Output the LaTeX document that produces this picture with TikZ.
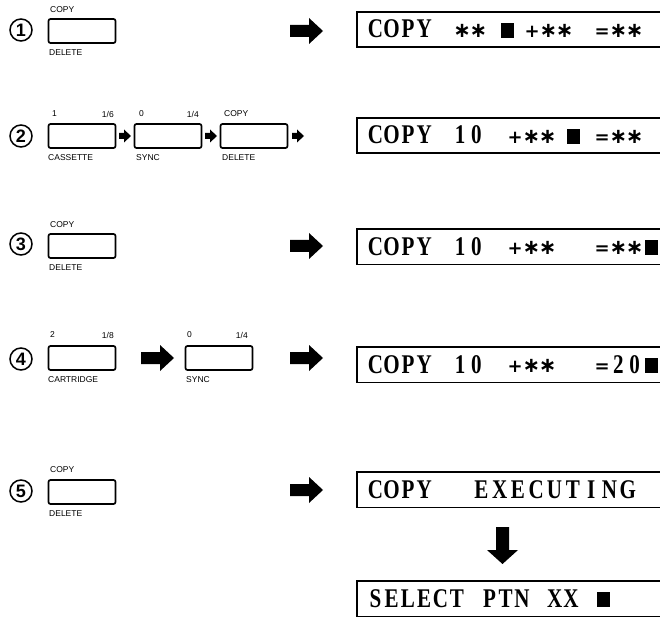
\documentclass[tikz,border=0pt]{standalone}
\usepackage{fontspec}
\setmainfont{Liberation Sans}
\newfontfamily\dispfont{Liberation Serif}[FakeStretch=0.78]
\newfontfamily\symfont{DejaVu Sans}
\newlength\pitch \setlength\pitch{16.3pt}
\newcommand\dsp[1]{\dspA#1\relax}
\def\dspA#1{\ifx\relax#1\else\makebox[\pitch][c]{\dchr#1}\expandafter\dspA\fi}
\def\dchr#1{\ifx*#1\raisebox{0.5pt}{\symfont\bfseries\fontsize{21}{21}\selectfont ∗}\else\ifx!#1\rule{13pt}{15pt}\else\ifx.#1\else\ifx+#1\raisebox{0.5pt}{\symfont\bfseries\fontsize{18}{18}\selectfont +}\else\ifx=#1\raisebox{0.5pt}{\symfont\bfseries\fontsize{18}{18}\selectfont =}\else#1\fi\fi\fi\fi\fi}
\newcommand\bigarrow[1]{\fill[shift={(#1)}] (0,-6) -- (19,-6) -- (19,-13) -- (33,0) -- (19,13) -- (19,6) -- (0,6) -- cycle;}
\newcommand\smallarrow[1]{\fill[shift={(#1)}] (0,-3) -- (5,-3) -- (5,-6.5) -- (12,0) -- (5,6.5) -- (5,3) -- (0,3) -- cycle;}
\begin{document}
\begin{tikzpicture}[x=1pt,y=-1pt,
  keybox/.style={draw,line width=1.7pt,rounded corners=2pt,minimum width=67pt,minimum height=24pt,inner sep=0pt},
  keylab/.style={font=\fontsize{8.5}{9}\selectfont,inner sep=0pt},
  circnum/.style={circle,draw,line width=1.5pt,minimum size=22pt,inner sep=0pt,font=\fontsize{18}{18}\selectfont\bfseries},
  dispbox/.style={minimum width=305pt,minimum height=35pt,inner sep=0pt,anchor=north west},
  dline/.style={line width=1.8pt},
  disptext/.style={anchor=base west,inner sep=0pt,font=\dispfont\bfseries\fontsize{27}{27}\selectfont}
]
\useasboundingbox (0,0) rectangle (660,617);

% displays
\foreach \t/\n in {12/d1,118/d2,229/d3,347/d4,472/d5,581/d6}{
  \node[dispbox] (\n) at (357,\t) {};
  \draw[dline] (\n.north east) -- (\n.north west) -- (\n.south west) -- (\n.south east);
}

% ---- row 1
\node[circnum] (c1) at (21,30) {1};
\node[keybox] (k1) at (82,31) {};
\node[keylab,anchor=west] (k1t) at (50,10) {COPY};
\node[keylab,anchor=west] (k1b) at (49,53) {DELETE};
\bigarrow{290,31}
\node[disptext] (t1a) at (367,38) {\dsp{COPY}};
\node[disptext] (t1b) at (453.8,38) {\dsp{**}};
\node[disptext] (t1c) at (498.8,38) {\dsp{!}};
\node[disptext] (t1d) at (523.8,38) {\dsp{+**}};
\node[disptext] (t1e) at (593.8,38) {\dsp{=**}};

% ---- row 2
\node[circnum] (c2) at (21,136) {2};
\node[keybox] (k21) at (82,136) {};
\node[keybox] (k22) at (168,136) {};
\node[keybox] (k23) at (254,136) {};
\smallarrow{119,136}
\smallarrow{205,136}
\smallarrow{292,136}
\node[keylab,anchor=west] (k21t) at (52,114) {1};
\node[keylab,anchor=east] (k21r) at (114,114) {1/6};
\node[keylab,anchor=west] (k21b) at (48,158) {CASSETTE};
\node[keylab,anchor=west] (k22t) at (139,114) {0};
\node[keylab,anchor=east] (k22r) at (199,114) {1/4};
\node[keylab,anchor=west] (k22b) at (136,158) {SYNC};
\node[keylab,anchor=west] (k23t) at (224,114) {COPY};
\node[keylab,anchor=west] (k23b) at (222,158) {DELETE};
\node[disptext] (t2a) at (367,144) {\dsp{COPY}};
\node[disptext] (t2b) at (451.8,144) {\dsp{10}};
\node[disptext] (t2c) at (506.8,144) {\dsp{+**}};
\node[disptext] (t2d) at (564.8,144) {\dsp{!}};
\node[disptext] (t2e) at (593.8,144) {\dsp{=**}};

% ---- row 3
\node[circnum] (c3) at (21,244) {3};
\node[keybox] (k3) at (82,246) {};
\node[keylab,anchor=west] (k3t) at (50,225) {COPY};
\node[keylab,anchor=west] (k3b) at (49,268) {DELETE};
\bigarrow{290,246}
\node[disptext] (t3a) at (367,255) {\dsp{COPY}};
\node[disptext] (t3b) at (451.8,255) {\dsp{10}};
\node[disptext] (t3c) at (506.8,255) {\dsp{+**}};
\node[disptext] (t3d) at (593.8,255) {\dsp{=**!}};

% ---- row 4
\node[circnum] (c4) at (21,359) {4};
\node[keybox] (k41) at (82,358) {};
\node[keybox] (k42) at (219,358) {};
\node[keylab,anchor=west] (k41t) at (50,335) {2};
\node[keylab,anchor=east] (k41r) at (114,335) {1/8};
\node[keylab,anchor=west] (k41b) at (48,380) {CARTRIDGE};
\node[keylab,anchor=west] (k42t) at (187,335) {0};
\node[keylab,anchor=east] (k42r) at (248,335) {1/4};
\node[keylab,anchor=west] (k42b) at (186,380) {SYNC};
\bigarrow{141,358}
\bigarrow{290,358}
\node[disptext] (t4a) at (367,373) {\dsp{COPY}};
\node[disptext] (t4b) at (451.8,373) {\dsp{10}};
\node[disptext] (t4c) at (506.8,373) {\dsp{+**}};
\node[disptext] (t4d) at (593.8,373) {\dsp{=20!}};

% ---- row 5
\node[circnum] (c5) at (21,491) {5};
\node[keybox] (k5) at (82,492) {};
\node[keylab,anchor=west] (k5t) at (50,470) {COPY};
\node[keylab,anchor=west] (k5b) at (49,514) {DELETE};
\bigarrow{290,490}
\node[disptext] (t5a) at (367,498) {\dsp{COPY}};
\node[disptext] (t5b) at (472,498) {\setlength\pitch{18.3pt}\dsp{EXECUTING}};

% down arrow
\fill (496,527) -- (509,527) -- (509,550) -- (518,550) -- (502.5,564) -- (487,550) -- (496,550) -- cycle;

% ---- row 6
\node[disptext] (t6a) at (367,607) {\dsp{SELECT.PTN.XX.!}};
\end{tikzpicture}
\end{document}
